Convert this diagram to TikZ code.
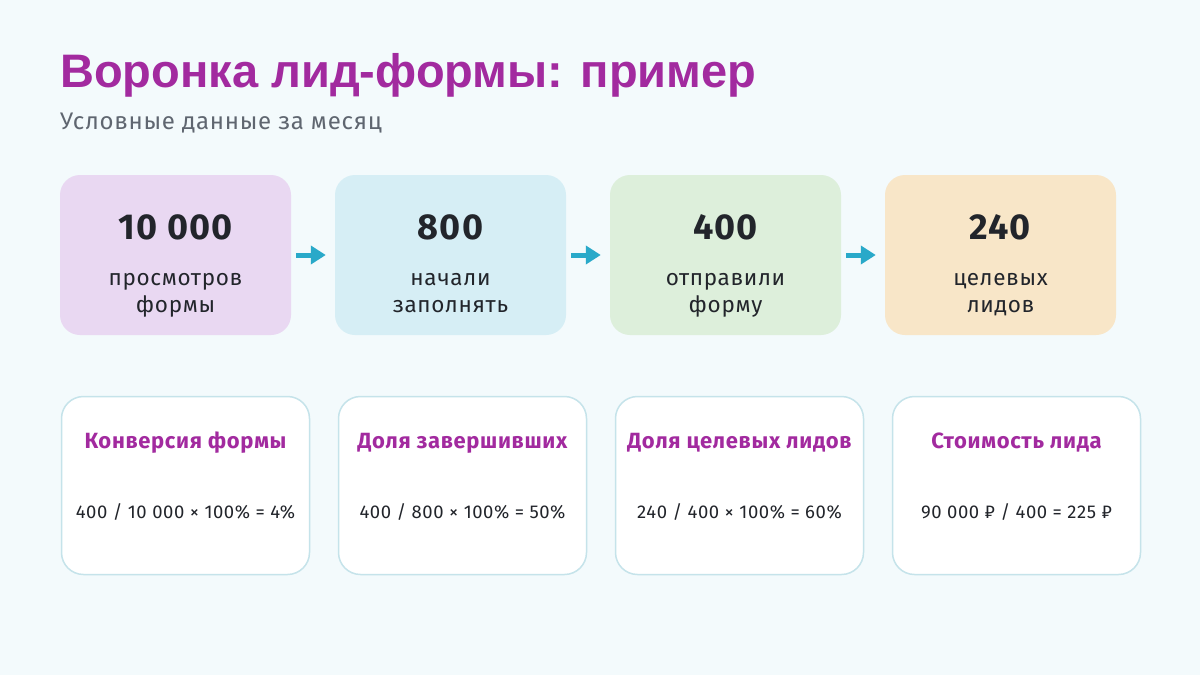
\documentclass[tikz,border=0pt]{standalone}
\usepackage{fontspec}
\setmainfont{Fira Sans}
\newfontfamily\titlefont{Liberation Sans}
\usetikzlibrary{arrows.meta}
\definecolor{bgc}{HTML}{F3FAFC}
\definecolor{ttl}{HTML}{A22A9F}
\definecolor{subc}{HTML}{5F6670}
\definecolor{txt}{HTML}{22252B}
\definecolor{c1}{HTML}{E9D8F2}
\definecolor{c2}{HTML}{D6EEF5}
\definecolor{c3}{HTML}{DDEFDB}
\definecolor{c4}{HTML}{F8E6C8}
\definecolor{arr}{HTML}{29A9C9}
\definecolor{bord}{HTML}{C5E3EA}
\newcommand{\trk}{\addfontfeature{LetterSpace=3}}
\tikzset{
  stagebox/.style={rounded corners=20pt, draw=none, minimum width=231pt, minimum height=160pt, inner sep=0pt},
  metricbox/.style={rounded corners=22pt, draw=bord, line width=1.5pt, fill=white, minimum width=248pt, minimum height=178pt, inner sep=0pt},
  bignum/.style={font=\fontsize{36}{40}\selectfont\bfseries\trk, text=txt},
  lbl/.style={font=\fontsize{22.5}{27}\selectfont\trk, text=txt, align=center},
  mtitle/.style={font=\fontsize{22}{26}\selectfont\bfseries\trk, text=ttl},
  formula/.style={font=\fontsize{18.5}{22}\selectfont\trk, text=txt},
  flow/.style={arr, line width=5pt, -{Triangle[length=15pt,width=18pt]}}
}
\begin{document}
\begin{tikzpicture}[x=1pt,y=-1pt]
\fill[bgc] (0,0) rectangle (1200,675);
\useasboundingbox (0,0) rectangle (1200,675);
\node[anchor=base west, inner sep=0pt, text=ttl, font=\titlefont\fontsize{47}{54}\selectfont\bfseries] (title) at (60,87) {Воронка лид-формы: пример};
\node[anchor=base west, inner sep=0pt, text=subc, font=\fontsize{24}{28}\selectfont\trk] (sub) at (60,129) {Условные данные за месяц};
% stage boxes
\node[stagebox, fill=c1] (s1) at (175.5,255) {};
\node[stagebox, fill=c2] (s2) at (450.5,255) {};
\node[stagebox, fill=c3] (s3) at (725.5,255) {};
\node[stagebox, fill=c4] (s4) at (1000.5,255) {};
\foreach \b/\n/\la/\lb in {s1/10 000/просмотров/формы, s2/800/начали/заполнять, s3/400/отправили/форму, s4/240/целевых/лидов}{
  \node[bignum, anchor=base, inner sep=0pt] (\b num) at ([yshift=16pt]\b.center) {\n};
  \node[lbl, anchor=base, inner sep=0pt] (\b la) at ([yshift=-30pt]\b.center) {\la};
  \node[lbl, anchor=base, inner sep=0pt] (\b lb) at ([yshift=-57pt]\b.center) {\lb};
}
\draw[flow] ([xshift=5pt]s1.east) -- ([xshift=-9pt]s2.west);
\draw[flow] ([xshift=5pt]s2.east) -- ([xshift=-9pt]s3.west);
\draw[flow] ([xshift=5pt]s3.east) -- ([xshift=-9pt]s4.west);
% metric boxes
\node[metricbox] (m1) at (185.5,485.5) {};
\node[metricbox] (m2) at (462.5,485.5) {};
\node[metricbox] (m3) at (739.5,485.5) {};
\node[metricbox] (m4) at (1016.5,485.5) {};
\node[mtitle] (m1t) at ([yshift=42.5pt]m1.center) {Конверсия формы};
\node[mtitle] (m2t) at ([yshift=42.5pt]m2.center) {Доля завершивших};
\node[mtitle] (m3t) at ([yshift=42.5pt]m3.center) {Доля целевых лидов};
\node[mtitle] (m4t) at ([yshift=42.5pt]m4.center) {Стоимость лида};
\node[formula] (m1f) at ([yshift=-26pt]m1.center) {400 / 10 000 × 100\% = 4\%};
\node[formula] (m2f) at ([yshift=-26pt]m2.center) {400 / 800 × 100\% = 50\%};
\node[formula] (m3f) at ([yshift=-26pt]m3.center) {240 / 400 × 100\% = 60\%};
\node[formula] (m4f) at ([yshift=-26pt]m4.center) {90 000 ₽ / 400 = 225 ₽};
\end{tikzpicture}
\end{document}
